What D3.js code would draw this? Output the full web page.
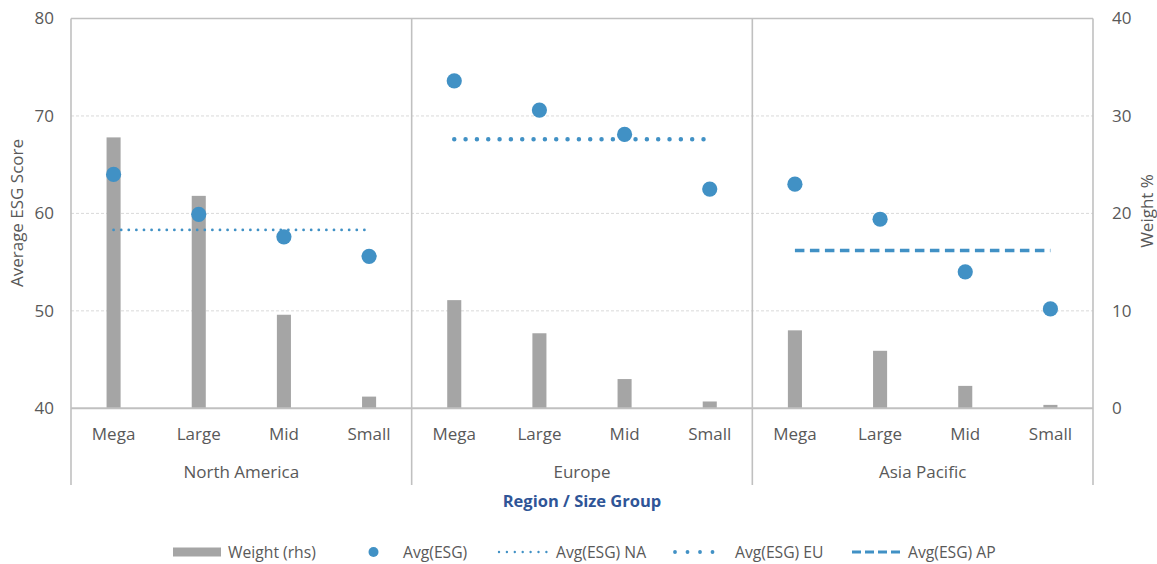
<!DOCTYPE html>
<html>
<head>
<meta charset="utf-8">
<script src="https://cdn.jsdelivr.net/npm/d3@7/dist/d3.min.js"></script>
<style>
  html, body { margin: 0; padding: 0; background: #ffffff; }
  svg { display: block; font-family: "Open Sans", "Noto Sans", sans-serif; }
</style>
</head>
<body>
<svg id="chart" width="1157" height="564"></svg>
<script>
// Regions and size buckets along the two-level category axis
const regions = ["North America", "Europe", "Asia Pacific"];
const regionCodes = ["NA", "EU", "AP"];
const sizes = ["Mega", "Large", "Mid", "Small"];

// Average ESG score per size bucket (left axis)
const esgNA = [64.0, 59.9, 57.6, 55.6];
const esgEU = [73.6, 70.6, 68.1, 62.5];
const esgAP = [63.0, 59.4, 54.0, 50.2];

// Index weight per size bucket, % (right axis)
const weightNA = [27.8, 21.8, 9.6, 1.2];
const weightEU = [11.1, 7.7, 3.0, 0.7];
const weightAP = [8.0, 5.9, 2.3, 0.35];

// Regional average ESG score
const regionAvg = [58.3, 67.6, 56.2];

// Axis ticks
const leftTicks = [40, 50, 60, 70, 80];
const rightTicks = [0, 10, 20, 30, 40];

const esgByRegion = [esgNA, esgEU, esgAP];
const weightByRegion = [weightNA, weightEU, weightAP];

const rows = [];
regions.forEach((r, ri) => {
  sizes.forEach((s, si) => {
    rows.push({ key: r + "|" + s, region: r, size: s, ri,
                esg: esgByRegion[ri][si], weight: weightByRegion[ri][si] });
  });
});

const svg = d3.select("#chart");
const plot = { left: 71, right: 1093, top: 18.5, bottom: 408.3 };

const x = d3.scaleBand().domain(rows.map(d => d.key)).range([plot.left, plot.right]).padding(0);
const yL = d3.scaleLinear().domain([40, 80]).range([plot.bottom, plot.top]);
const yR = d3.scaleLinear().domain([0, 40]).range([plot.bottom, plot.top]);

const blue = "#4191c5";
const grey = "#a5a5a5";
const textColor = "#595959";
const lineColor = "#c0c0c0";

const lineStyles = {
  NA: { width: 2.8, dash: "0 7.6", cap: "round" },
  EU: { width: 4.5, dash: "0 11.33", cap: "round" },
  AP: { width: 3.6, dash: "9.5 5.5", cap: "butt" }
};

// Horizontal gridlines
svg.append("g")
  .selectAll("line")
  .data(leftTicks.filter(t => t > 40 && t < 80))
  .join("line")
  .attr("x1", plot.left).attr("x2", plot.right)
  .attr("y1", d => yL(d)).attr("y2", d => yL(d))
  .attr("stroke", "#d9d9d9").attr("stroke-width", 1)
  .attr("stroke-dasharray", "3 2");

// Plot frame: top edge
const frameBottom = 485;
svg.append("line")
  .attr("x1", plot.left).attr("x2", plot.right)
  .attr("y1", plot.top).attr("y2", plot.top)
  .attr("stroke", lineColor).attr("stroke-width", 1.3);

// Region boundaries (left edge, separators, right edge), running down through the category axis
const boundaries = regions.map(r => x(r + "|" + sizes[0])).concat([plot.right]);
svg.append("g")
  .selectAll("line")
  .data(boundaries)
  .join("line")
  .attr("x1", d => d).attr("x2", d => d)
  .attr("y1", plot.top).attr("y2", frameBottom)
  .attr("stroke", lineColor).attr("stroke-width", 1.6);

// Weight bars
const barW = x.bandwidth() * 0.165;
svg.append("g")
  .selectAll("rect")
  .data(rows)
  .join("rect")
  .attr("x", d => x(d.key) + x.bandwidth() / 2 - barW / 2)
  .attr("width", barW)
  .attr("y", d => yR(d.weight))
  .attr("height", d => yR(0) - yR(d.weight))
  .attr("fill", grey);

// Category baseline
svg.append("line")
  .attr("x1", plot.left).attr("x2", plot.right)
  .attr("y1", plot.bottom).attr("y2", plot.bottom)
  .attr("stroke", lineColor).attr("stroke-width", 2);

// Regional average lines, spanning Mega to Small
regions.forEach((r, ri) => {
  const st = lineStyles[regionCodes[ri]];
  svg.append("line")
    .attr("x1", x(r + "|" + sizes[0]) + x.bandwidth() / 2)
    .attr("x2", x(r + "|" + sizes[sizes.length - 1]) + x.bandwidth() / 2)
    .attr("y1", yL(regionAvg[ri])).attr("y2", yL(regionAvg[ri]))
    .attr("stroke", blue).attr("stroke-width", st.width)
    .attr("stroke-dasharray", st.dash).attr("stroke-linecap", st.cap);
});

// ESG score markers
svg.append("g")
  .selectAll("circle")
  .data(rows)
  .join("circle")
  .attr("cx", d => x(d.key) + x.bandwidth() / 2)
  .attr("cy", d => yL(d.esg))
  .attr("r", 7.6)
  .attr("fill", blue);

// Left axis
const axL = svg.append("g")
  .attr("transform", `translate(${plot.left - 17},0)`)
  .call(d3.axisLeft(yL).tickValues(leftTicks).tickSize(0).tickPadding(0));
axL.select(".domain").remove();
axL.selectAll("text").attr("fill", textColor).style("font-size", "17px")
  .style("font-family", "'Open Sans', sans-serif");

// Right axis
const axR = svg.append("g")
  .attr("transform", `translate(${plot.right + 19},0)`)
  .call(d3.axisRight(yR).tickValues(rightTicks).tickSize(0).tickPadding(0));
axR.select(".domain").remove();
axR.selectAll("text").attr("fill", textColor).style("font-size", "17px")
  .style("font-family", "'Open Sans', sans-serif");

// Size labels (inner category level)
const axX = svg.append("g")
  .attr("transform", `translate(0,${plot.bottom})`)
  .call(d3.axisBottom(x).tickSize(0).tickPadding(0).tickFormat(k => k.split("|")[1]));
axX.select(".domain").remove();
axX.selectAll("text").attr("fill", textColor).attr("dy", 0).attr("y", 32)
  .style("font-size", "17px").style("font-family", "'Open Sans', sans-serif");

// Region labels (outer category level)
svg.append("g")
  .selectAll("text")
  .data(regions)
  .join("text")
  .attr("x", (r, i) => (boundaries[i] + boundaries[i + 1]) / 2)
  .attr("y", 478)
  .attr("text-anchor", "middle")
  .attr("fill", textColor)
  .style("font-size", "17px")
  .text(d => d);

// Axis titles
svg.append("text")
  .attr("transform", `translate(17.5,213) rotate(-90)`)
  .attr("text-anchor", "middle")
  .attr("dy", "0.35em")
  .attr("fill", textColor).style("font-size", "17px")
  .text("Average ESG Score");

svg.append("text")
  .attr("transform", `translate(1147,211) rotate(-90)`)
  .attr("text-anchor", "middle")
  .attr("dy", "0.35em")
  .attr("fill", textColor).style("font-size", "17px")
  .text("Weight %");

svg.append("text")
  .attr("x", (plot.left + plot.right) / 2)
  .attr("y", 507)
  .attr("text-anchor", "middle")
  .attr("fill", "#2f5597")
  .style("font-size", "16.5px").style("font-weight", "bold")
  .text("Region / Size Group");

// Legend
const legendY = 552;
const legend = svg.append("g").style("font-size", "15.7px").attr("fill", textColor);

legend.append("rect").attr("x", 173).attr("y", legendY - 4.5).attr("width", 48).attr("height", 9).attr("fill", grey);
legend.append("text").attr("x", 228).attr("y", legendY + 5.5).text("Weight (rhs)");

legend.append("circle").attr("cx", 373.5).attr("cy", legendY).attr("r", 5).attr("fill", blue);
legend.append("text").attr("x", 403).attr("y", legendY + 5.5).text("Avg(ESG)");

const legendLines = [
  { code: "NA", x1: 499, x2: 547, tx: 556, dash: "0 7.9" },
  { code: "EU", x1: 675, x2: 725, tx: 735, dash: "0 12.5" },
  { code: "AP", x1: 852, x2: 903, tx: 908, dash: "9 4" }
];
legendLines.forEach(l => {
  const st = lineStyles[l.code];
  legend.append("line")
    .attr("x1", l.x1).attr("x2", l.x2).attr("y1", legendY).attr("y2", legendY)
    .attr("stroke", blue).attr("stroke-width", st.width * 0.85)
    .attr("stroke-dasharray", l.dash)
    .attr("stroke-linecap", st.cap);
  legend.append("text").attr("x", l.tx).attr("y", legendY + 5.5).text("Avg(ESG) " + l.code);
});
</script>
</body>
</html>
